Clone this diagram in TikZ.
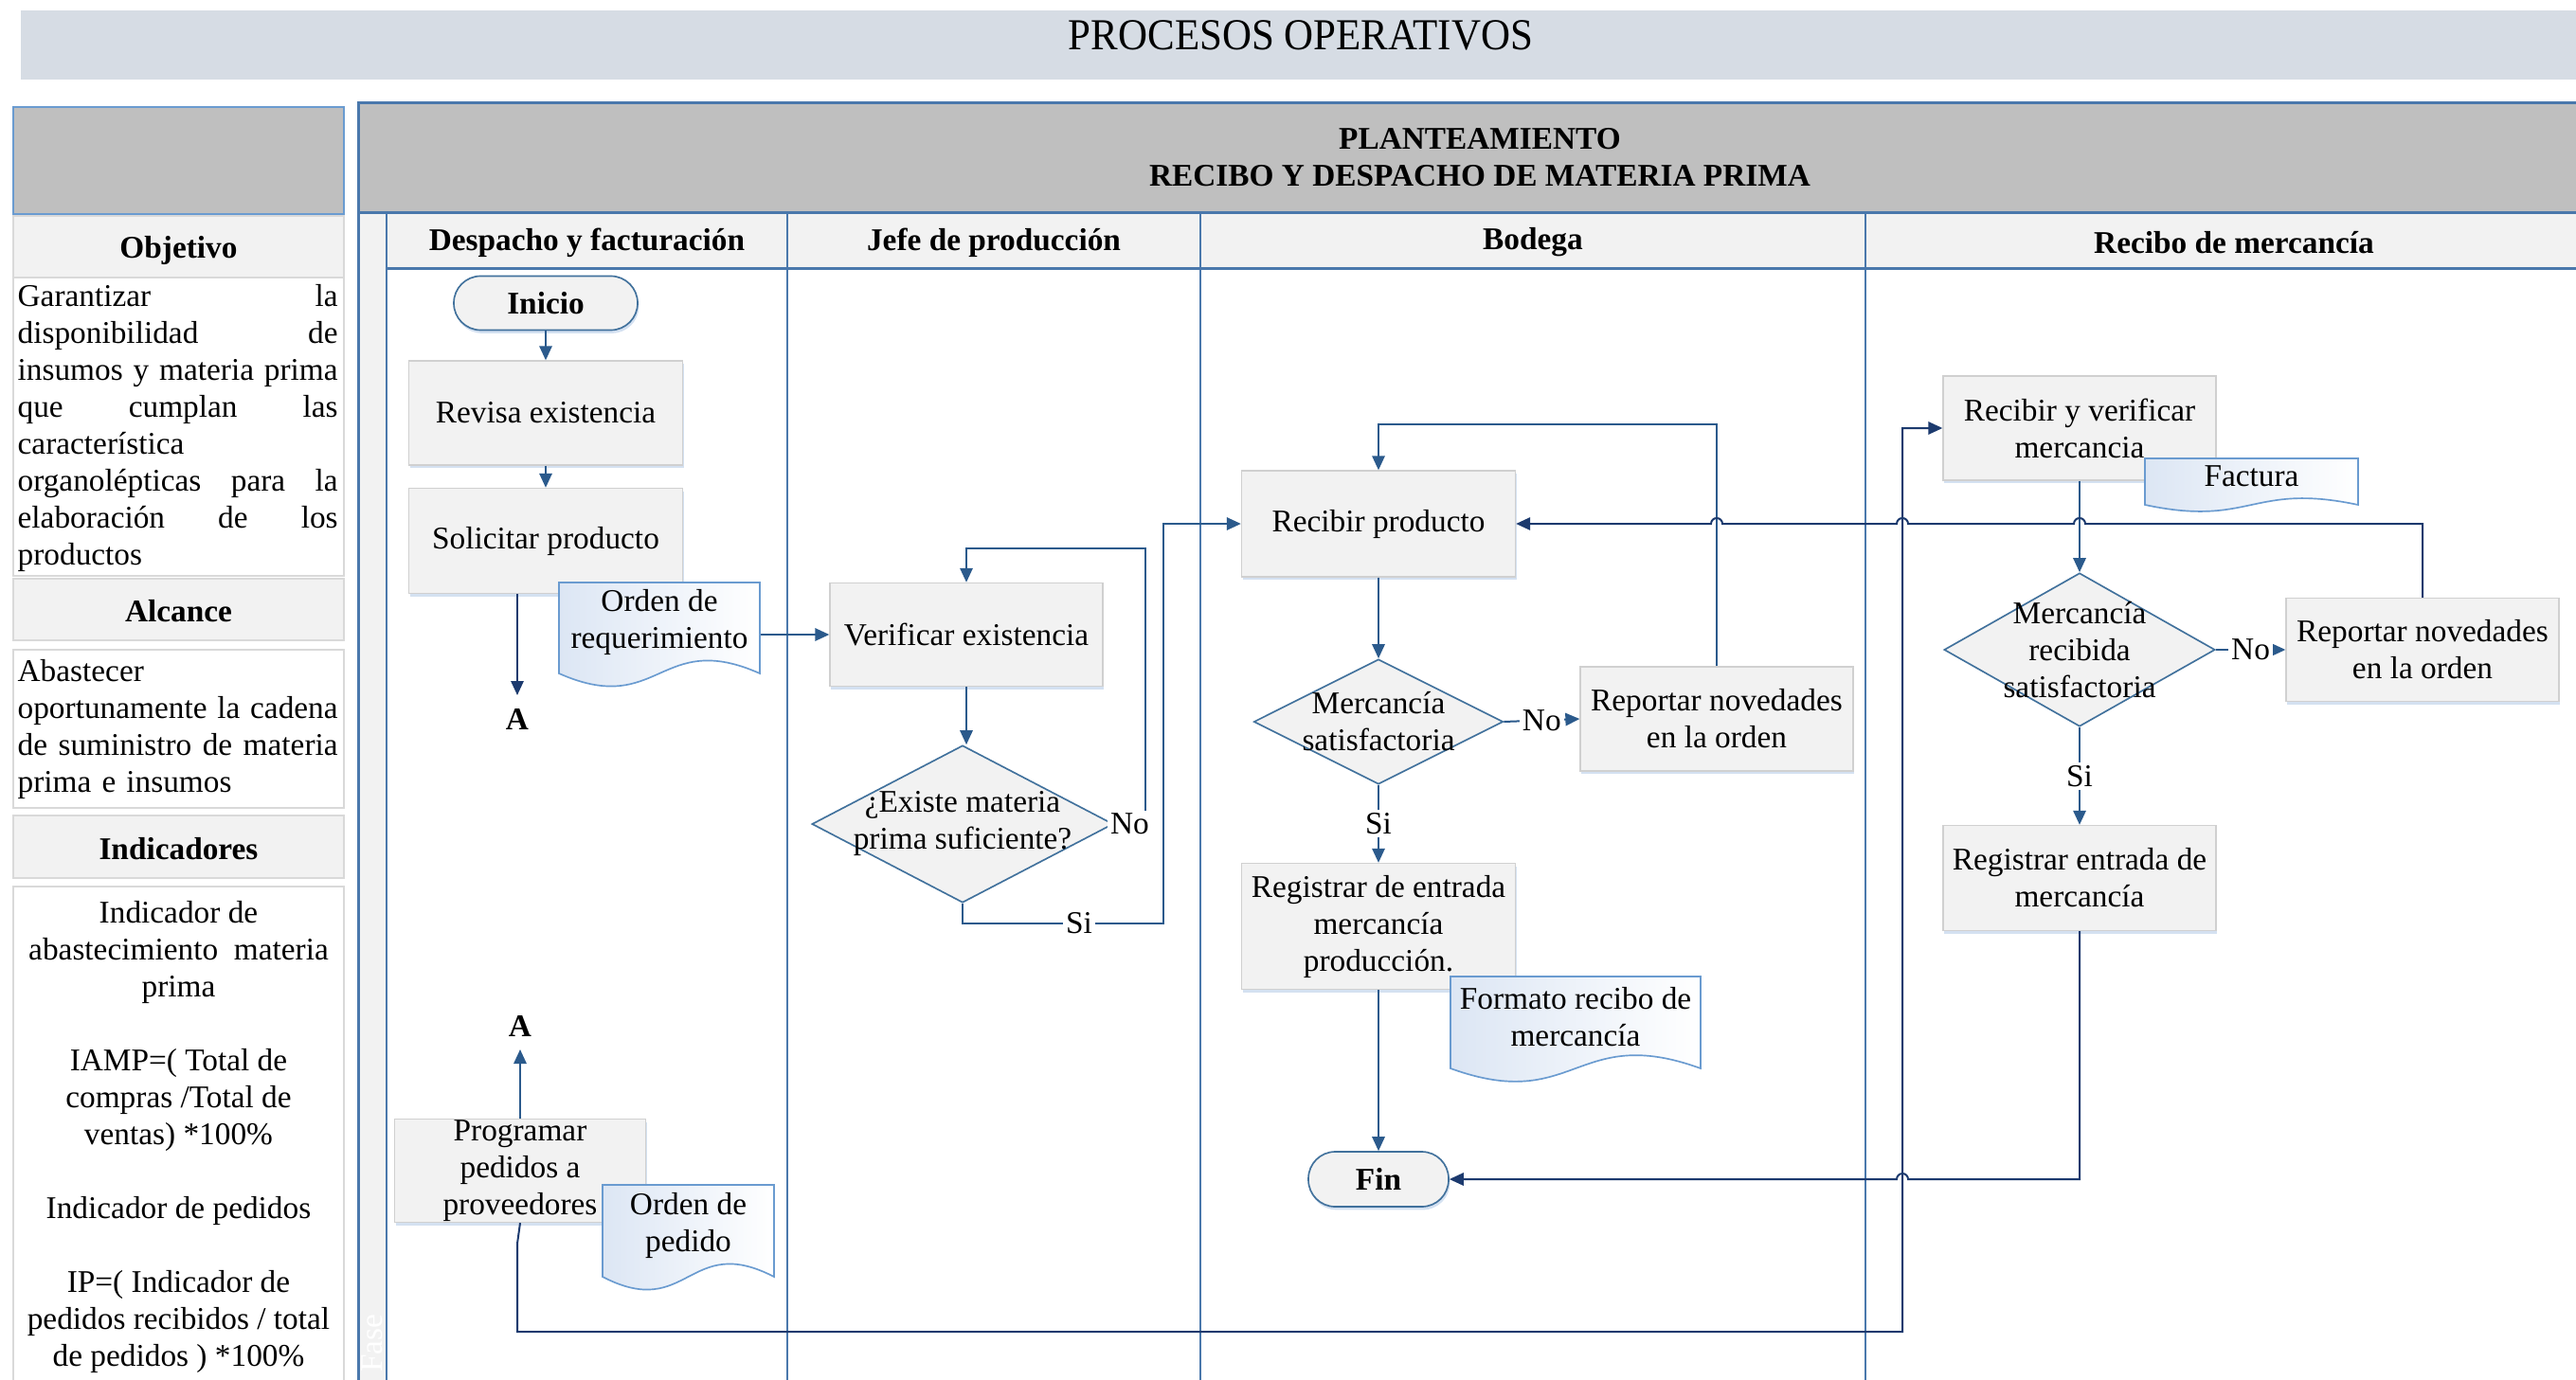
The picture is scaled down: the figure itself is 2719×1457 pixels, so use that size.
\documentclass[tikz,border=0pt]{standalone}
\usepackage{fontspec}
\usepackage{graphicx}
\setmainfont{Liberation Serif}
\usetikzlibrary{arrows.meta,shapes.geometric,calc,shadows}

\definecolor{bandfill}{HTML}{D6DCE4}
\definecolor{hdrgray}{HTML}{BFBFBF}
\definecolor{cellfill}{HTML}{F2F2F2}
\definecolor{laneline}{HTML}{4A78AC}
\definecolor{panelblue}{HTML}{6A9BD0}
\definecolor{panelline}{HTML}{D9D9D9}
\definecolor{conncol}{HTML}{2B5A8C}
\definecolor{conndark}{HTML}{1C3A6E}
\definecolor{boxline}{HTML}{D0D0D0}
\definecolor{shapeline}{HTML}{41719C}
\definecolor{docline}{HTML}{6A9BD0}
\definecolor{docfill}{HTML}{DCE6F4}
\definecolor{shadowcol}{HTML}{C9D9EE}

% a justified line: spaces stretched to the full column width
\newcommand\jl[1]{{\spaceskip=0pt\xspaceskip=0pt\makebox[101.4pt][s]{#1}}}

% document symbol: name, centre x, centre y, width, height, wave depth, text
\newcommand\docnode[7]{%
  \path[docshape] ({#2-#4/2},{#3-#5/2}) -- ({#2+#4/2},{#3-#5/2}) -- ({#2+#4/2},{#3+#5/2})
    .. controls (#2,{#3+#5/2-#6}) and (#2,{#3+#5/2+#6}) .. ({#2-#4/2},{#3+#5/2}) -- cycle;
  \node[doctext, sz={#4}{#5}] (#1) at (#2,{#3-6}) {#7};
}

\tikzset{
  sz/.style 2 args={minimum width={#1*0.3pt}, minimum height={#2*0.3pt}},
  txt/.style={font=\fontsize{10}{11.7}\selectfont, align=center, inner sep=0pt},
  btxt/.style={txt, font=\fontsize{10}{11.7}\selectfont\bfseries},
  process/.style={txt, rectangle, fill=cellfill, draw=boxline, line width=0.4pt,
    drop shadow={shadow xshift=0.4pt, shadow yshift=-1pt, fill=shadowcol, opacity=0.8}},
  terminal/.style={btxt, rectangle, rounded corners=8.5pt, fill=cellfill, draw=shapeline, line width=0.5pt,
    drop shadow={shadow xshift=0.4pt, shadow yshift=-1pt, fill=shadowcol, opacity=0.8}},
  decision/.style={diamond, inner sep=0pt, fill=cellfill, draw=shapeline, line width=0.5pt},
  dectext/.style={txt},
  doctext/.style={txt},
  docshape/.style={draw=docline, line width=0.5pt, left color=docfill, right color=white},
  conn/.style={draw=conncol, line width=0.6pt, -{Triangle[length=4.5pt,width=4pt]}},
  connd/.style={conn, draw=conndark},
  lbl/.style={txt, fill=white, inner sep=1pt},
  connector/.style={btxt, inner sep=4pt},
  panelhdr/.style={btxt},
  paneltext/.style={txt, align=left, text width=101.4pt, anchor=north west},
  lanehdr/.style={btxt},
  laneedge/.style={draw=laneline, line width=0.9pt},
  lanediv/.style={draw=laneline, line width=0.6pt},
}

\begin{document}
\begin{tikzpicture}[x=0.3pt,y=-0.3pt]
\useasboundingbox (0,0) rectangle (2719,1457);
\clip (0,0) rectangle (2719,1457);

% ---------- title band ----------
\fill[bandfill] (22,11) rectangle (2730,84);
\node[font=\fontsize{14}{16}\selectfont, inner sep=0pt] (title) at (1373,37) {\scalebox{0.92}[1]{PROCESOS OPERATIVOS}};

% ---------- left information panel ----------
\draw[draw=panelblue, fill=hdrgray, line width=0.5pt] (14,113) rectangle (363,226);
\draw[draw=panelline, fill=cellfill, line width=0.5pt] (14,228) rectangle (363,293);
\draw[draw=panelline, fill=white, line width=0.5pt] (14,293) rectangle (363,608);
\draw[draw=panelline, fill=cellfill, line width=0.5pt] (14,611) rectangle (363,676);
\draw[draw=panelline, fill=white, line width=0.5pt] (14,686) rectangle (363,853);
\draw[draw=panelline, fill=cellfill, line width=0.5pt] (14,861) rectangle (363,927);
\draw[draw=panelline, fill=white, line width=0.5pt] (14,936) rectangle (363,1480);

\node[panelhdr] (objhdr) at (188.5,264) {Objetivo};
\node[panelhdr] (alchdr) at (188.5,645) {Alcance};
\node[panelhdr] (indhdr) at (188.5,896) {Indicadores};

\node[paneltext] (objtxt) at (18,295.7) {\strut\jl{Garantizar la}\\\jl{disponibilidad de}\\\jl{insumos y materia prima}\\\jl{que cumplan las}\\característica\\\jl{organolépticas para la}\\\jl{elaboración de los}\\productos};
\node[paneltext] (alctxt) at (18,691.7) {\strut Abastecer\\\jl{oportunamente la cadena}\\\jl{de suministro de materia}\\prima e insumos};
\node[txt, anchor=north] (indtxt) at (188.5,946.7) {\strut Indicador de\\abastecimiento~ materia\\prima\\\mbox{}\\IAMP=( Total de\\compras /Total de\\ventas) *100\%\\\mbox{}\\Indicador de pedidos\\\mbox{}\\IP=( Indicador de\\pedidos recibidos / total\\de pedidos ) *100\%};

% ---------- swimlane frame ----------
\fill[hdrgray] (378,109) rectangle (2747,225);
\fill[cellfill] (378,225) rectangle (408,1480);
\fill[cellfill] (408,225) rectangle (2747,283);
\draw[laneedge] (378,1480) -- (378,109) -- (2747,109);
\draw[laneedge] (378,225) -- (2747,225);
\draw[laneedge] (408,283) -- (2747,283);
\draw[lanediv] (408,225) -- (408,1480);
\foreach \x in {831,1267,1969} \draw[lanediv] (\x,225) -- (\x,1480);

\node[btxt] (process) at (1562,166) {PLANTEAMIENTO\\RECIBO Y DESPACHO DE MATERIA PRIMA};
\node[lanehdr] (lane1) at (619.5,256) {Despacho y facturación};
\node[lanehdr] (lane2) at (1049,256) {Jefe de producción};
\node[lanehdr] (lane3) at (1618,256) {Bodega};
\node[lanehdr] (lane4) at (2358,256) {Recibo de mercancía};
\node[txt, rotate=90, text=white] (fase) at (393,1418) {Fase};

% ---------- Despacho y facturación ----------
\node[terminal, sz={194}{57}] (inicio) at (576,320) {Inicio};
\node[process, sz={289}{110}] (revisa) at (576,436) {Revisa existencia};
\node[process, sz={289}{111}] (solicitar) at (576,571) {Solicitar producto};
\docnode{ordreq}{696}{663}{212}{96}{47}{Orden de\\requerimiento}
\node[connector] (A1) at (546,759) {A};
\node[process, sz={265}{109}] (programar) at (549,1236) {Programar\\pedidos a\\proveedores};
\docnode{ordped}{726.5}{1299.5}{181}{97}{47}{Orden de\\pedido}
\node[connector] (A2) at (549,1083) {A};

% ---------- Jefe de producción ----------
\node[process, sz={288}{109}] (verificar) at (1020,670) {Verificar existencia};
\node[decision, sz={318}{166}, label={[dectext]center:{¿Existe materia\\prima suficiente?}}] (existe) at (1016,870) {};

% ---------- Bodega ----------
\node[process, sz={289}{112}] (recibir) at (1455,553) {Recibir producto};
\node[decision, sz={263}{132}, label={[dectext]center:{Mercancía\\satisfactoria}}] (merc) at (1455,762) {};
\node[process, sz={288}{110}] (rep1) at (1812,759) {Reportar novedades\\en la orden};
\node[process, sz={289}{133}] (reg1) at (1455,978) {Registrar de entrada\\mercancía\\producción.};
\docnode{formato}{1663}{1079.5}{264}{97}{48}{Formato recibo de\\mercancía}
\node[terminal, sz={148}{58}] (fin) at (1455,1245) {Fin};

% ---------- Recibo de mercancía ----------
\node[process, sz={288}{110}] (recver) at (2195,452) {Recibir y verificar\\mercancia};
\docnode{factura}{2376.5}{508.5}{225}{49}{24}{Factura}
\node[decision, sz={286}{162}, label={[dectext]center:{Mercancía\\recibida\\satisfactoria}}] (merc2) at (2195,686) {};
\node[process, sz={288}{109}] (rep2) at (2557,686) {Reportar novedades\\en la orden};
\node[process, sz={288}{111}] (reg2) at (2195,927) {Registrar entrada de\\mercancía};

% ---------- routing points ----------
\coordinate (loopA) at (1209,579);
\coordinate (siC) at (1228,975);
\coordinate (loopB) at (1455,448);
\coordinate (pkink) at (546,1313);
\coordinate (bus) at (2008,1406);

% ---------- connectors ----------
\draw[conn] (inicio.south) -- (revisa.north);
\draw[conn] (revisa.south) -- (solicitar.north);
\draw[connd] (solicitar.south -| A1) -- (A1.north);
\draw[conn] (ordreq.east |- verificar.west) -- (verificar.west);
\draw[conn] (programar.north) -- (A2.south);
\draw[conn] (verificar.south) -- (verificar.south |- existe.north);
\draw[conn] (existe.east) -- node[lbl] {No} (existe.east -| loopA) -- (loopA) -| (verificar.north);
\draw[conn] (existe.south) |- node[lbl, pos=0.79] {Si} (siC) -- (siC |- recibir.west) -- (recibir.west);

\draw[conn] (recibir.south) -- (merc.north);
\draw[conn] (merc.east) -- node[lbl] {No} (rep1.west);
\draw[conn] (rep1.north) |- (loopB) -- (recibir.north);
\draw[conn] (merc.south) -- node[lbl] {Si} (reg1.north);
\draw[conn] (reg1.south) -- (fin.north);

\draw[conn] (recver.south) -- (merc2.north);
\draw[conn] (merc2.east) -- node[lbl] {No} (rep2.west);
\draw[conn] (merc2.south) -- node[lbl] {Si} (reg2.north);

\draw[connd] (rep2.north) -- (rep2.north |- recibir.east)
  -- ($(recver.south |- recibir.east)+(6,0)$) arc[start angle=0, end angle=180, radius=1.8pt]
  -- ($(bus |- recibir.east)+(6,0)$) arc[start angle=0, end angle=180, radius=1.8pt]
  -- ($(rep1.north |- recibir.east)+(6,0)$) arc[start angle=0, end angle=180, radius=1.8pt]
  -- (recibir.east);
\draw[connd] (reg2.south) -- (reg2.south |- fin.east)
  -- ($(bus |- fin.east)+(6,0)$) arc[start angle=0, end angle=180, radius=1.8pt]
  -- (fin.east);
\draw[connd] (programar.south) -- (pkink) -- (pkink |- bus) -- (bus) -- (bus |- recver.west) -- (recver.west);

\end{tikzpicture}
\end{document}
